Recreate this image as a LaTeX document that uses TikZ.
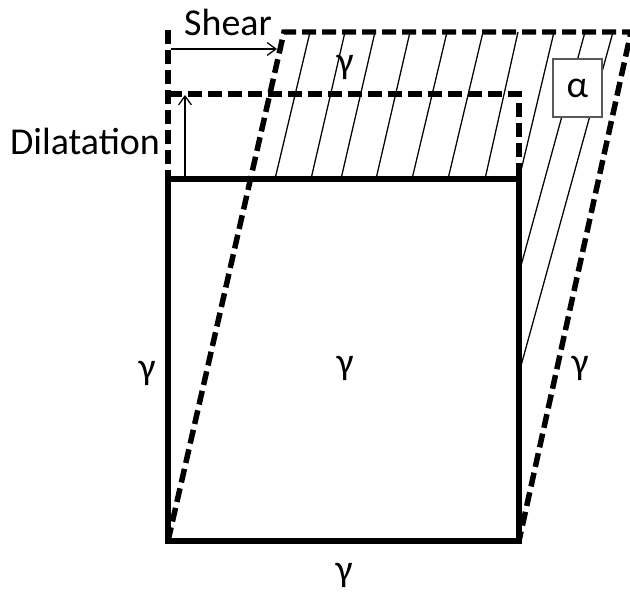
\documentclass[tikz,border=0pt]{standalone}
\usepackage{fontspec}
\setmainfont{Carlito}
\usetikzlibrary{arrows.meta}

\begin{document}
\begin{tikzpicture}[x=0.025cm, y=-0.025cm,
  every node/.style={font=\fontsize{27}{32}\selectfont, inner sep=0pt},
  solidline/.style={line width=4pt},
  dashline/.style={line width=3.9pt, dash pattern=on 0.35cm off 0.15cm},
  hatchline/.style={line width=0.9pt},
  thinarrow/.style={line width=0.9pt, -{Straight Barb[length=2.2mm,width=3.2mm]}}]
\useasboundingbox (0,0) rectangle (630,592);
% square corners
\coordinate (bl) at (168,541);
\coordinate (br) at (519,541);
\coordinate (tl) at (168,179);
\coordinate (tr) at (519,179);
% sheared and dilated outlines
\draw[dashline] (bl) -- (284,32) -- (631,32) -- (br);
\draw[dashline] (168,30) -- (tl);
\draw[dashline] (168,94) -- (519,94) -- (tr);
% hatching
\foreach \xa/\xb in {310/275, 345/311, 375/341, 410/376, 447/412, 483/448, 518/485}
  \draw[hatchline] (\xa,32) -- (\xb,179);
\draw[hatchline] (554,32) -- (tr);
\draw[hatchline] (585,32) -- (519,273);
\draw[hatchline] (613,32) -- (519,373);
% original square
\draw[solidline] (tl) rectangle (br);
% arrows
\coordinate (sh0) at (171,49);
\coordinate (sh1) at (277,49);
\draw[thinarrow] (sh0) -- (sh1);
\coordinate (di0) at (185,179);
\coordinate (di1) at (185,95);
\draw[thinarrow] (di0) -- (di1);
% labels
\node[draw=gray!70!black, fill=white, line width=0.8pt, minimum width=1.225cm, minimum height=1.45cm] (alpha) at (577.5,88) {α};
\node (shear) at (228,22) {Shear};
\node (dil) at (85,141) {Dilatation};
\node (gtop) at (345,67) {γ};
\node (gleft) at (147,373) {γ};
\node (gmid) at (345,368) {γ};
\node (gright) at (580,368) {γ};
\node (gbot) at (344,575) {γ};
\end{tikzpicture}
\end{document}
